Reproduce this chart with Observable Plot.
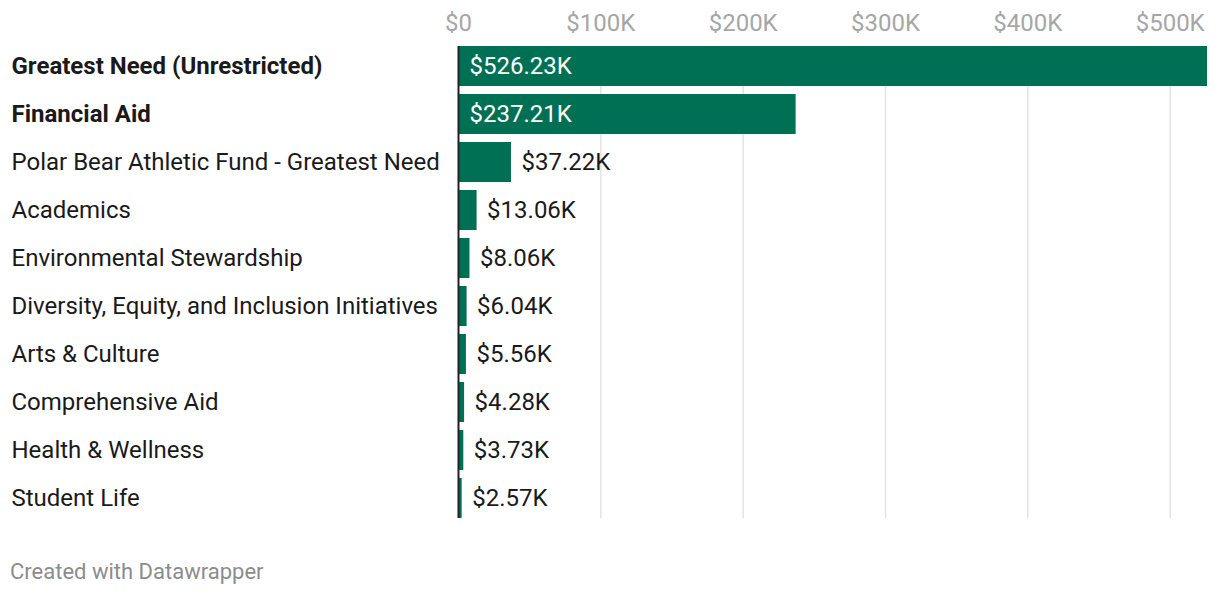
<!DOCTYPE html>
<html>
<head>
<meta charset="utf-8">
<script src="https://cdn.jsdelivr.net/npm/d3@7"></script>
<script src="https://cdn.jsdelivr.net/npm/@observablehq/plot@0.6"></script>
<style>
  html, body { margin: 0; padding: 0; background: #fff; }
  body { font-family: Roboto, sans-serif; width: 1220px; }
  #chart svg { display: block; }
  #footer { font-family: Roboto, sans-serif; font-size: 22px; color: #8c8c8c; margin-left: 10px; margin-top: 19px; }
</style>
</head>
<body>
<div id="chart"></div>
<div id="footer">Created with Datawrapper</div>
<script>
const categories = [
  "Greatest Need (Unrestricted)",
  "Financial Aid",
  "Polar Bear Athletic Fund - Greatest Need",
  "Academics",
  "Environmental Stewardship",
  "Diversity, Equity, and Inclusion Initiatives",
  "Arts & Culture",
  "Comprehensive Aid",
  "Health & Wellness",
  "Student Life"
];
const values = [526230, 237210, 37220, 13060, 8060, 6040, 5560, 4280, 3730, 2570];
const boldCategories = ["Greatest Need (Unrestricted)", "Financial Aid"];
const insideLabel = ["Greatest Need (Unrestricted)", "Financial Aid"];
const tickValues = [0, 100000, 200000, 300000, 400000, 500000];
const tickLabels = ["$0", "$100K", "$200K", "$300K", "$400K", "$500K"];

const data = categories.map((c, i) => ({name: c, value: values[i]}));
const fmt = v => "$" + (v / 1000).toFixed(2) + "K";
const green = "#007055";

const chart = Plot.plot({
  width: 1220,
  height: 540,
  marginLeft: 458,
  marginRight: 13,
  marginTop: 38,
  marginBottom: 14,
  style: {fontFamily: "Roboto, sans-serif", fontSize: "24px", background: "#fff"},
  x: {domain: [0, 526230], axis: null, label: null},
  y: {domain: categories, padding: 1/6, round: false, axis: null, label: null},
  marks: [
    Plot.ruleX(tickValues, {x: d => d, stroke: "#e3e3e3", strokeWidth: 1.5, insetTop: 8, insetBottom: 8}),
    Plot.axisX(tickValues, {anchor: "top", label: null, tickSize: 0, tickPadding: 8, tickFormat: (d, i) => tickLabels[i], fill: "#a6a6a6", fontSize: 24}),
    Plot.barX(data, {y: "name", x: "value", fill: green}),
    Plot.ruleX([0], {stroke: "#222", strokeWidth: 2, insetTop: 8, insetBottom: 8}),
    Plot.text(data.filter(d => boldCategories.includes(d.name)), {y: "name", text: "name", frameAnchor: "left", textAnchor: "start", dx: -447, fill: "#1a1a1a", fontWeight: "bold", fontSize: 24}),
    Plot.text(data.filter(d => !boldCategories.includes(d.name)), {y: "name", text: "name", frameAnchor: "left", textAnchor: "start", dx: -447, fill: "#1a1a1a", fontSize: 24}),
    Plot.text(data.filter(d => insideLabel.includes(d.name)), {y: "name", x: 0, text: d => fmt(d.value), textAnchor: "start", dx: 11, fill: "#fff", fontSize: 24}),
    Plot.text(data.filter(d => !insideLabel.includes(d.name)), {y: "name", x: "value", text: d => fmt(d.value), textAnchor: "start", dx: 10, fill: "#1a1a1a", fontSize: 24})
  ]
});
document.getElementById("chart").appendChild(chart);
</script>
</body>
</html>
